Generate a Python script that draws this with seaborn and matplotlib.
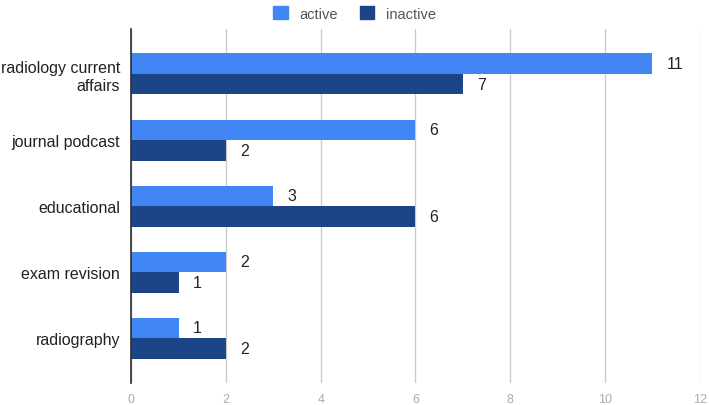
import pandas as pd
import matplotlib.pyplot as plt
import seaborn as sns

categories = ["radiology current\naffairs", "journal podcast", "educational",
              "exam revision", "radiography"]
active = [11, 6, 3, 2, 1]
inactive = [7, 2, 6, 1, 2]
statuses = ["active", "inactive"]
colors = ["#4285f4", "#1c4587"]

df = pd.DataFrame({
    "category": categories * 2,
    "value": active + inactive,
    "status": ["active"] * len(categories) + ["inactive"] * len(categories),
})

sns.set_theme(style="white")
plt.rcParams["font.family"] = ["Liberation Sans", "DejaVu Sans"]

fig = plt.figure(figsize=(7.09, 4.06), dpi=100)
ax = fig.add_axes([0.185, 0.054, 0.802, 0.872])

sns.barplot(data=df, y="category", x="value", hue="status", order=categories,
            hue_order=statuses, palette=colors, saturation=1, width=0.63, gap=0.03,
            orient="h", linewidth=0, ax=ax, legend=False)

for cont in ax.containers:
    ax.bar_label(cont, padding=10, fontsize=11.5, color="#222222")

ax.set_xlim(0, 12)
ax.set_ylim(4.68, -0.68)
ax.set_xticks(range(0, 13, 2))
ax.grid(axis="x", color="#cccccc", linewidth=1)
ax.set_axisbelow(True)
for s in ["top", "right", "bottom"]:
    ax.spines[s].set_visible(False)
ax.spines["left"].set_color("#333333")
ax.spines["left"].set_zorder(5)
ax.set_xlabel("")
ax.set_ylabel("")
ax.tick_params(axis="x", labelsize=9, labelcolor="#aaaaaa", length=0, pad=7)
ax.tick_params(axis="y", labelsize=11.5, labelcolor="#222222", length=0, pad=8)
for lbl in ax.get_yticklabels():
    lbl.set_horizontalalignment("right")
    lbl.set_multialignment("right")

handles = [plt.Rectangle((0, 0), 1, 1, color=c) for c in colors]
fig.legend(handles, statuses, loc="upper center", bbox_to_anchor=(0.50, 1.015),
           ncol=2, frameon=False, fontsize=10.5, labelcolor="#555555",
           handlelength=1.0, handleheight=1.0, columnspacing=1.5, handletextpad=0.8)

fig.savefig("out.png", dpi=100)
